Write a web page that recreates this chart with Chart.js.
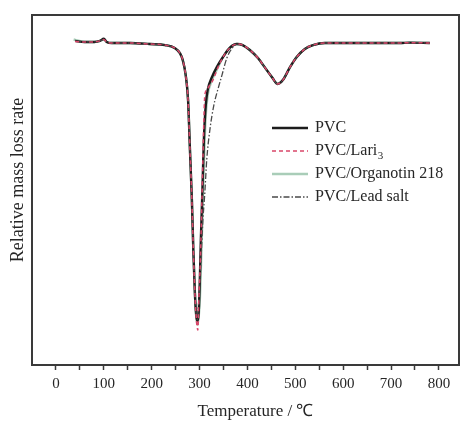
<!DOCTYPE html>
<html>
<head>
<meta charset="utf-8">
<script src="https://cdn.jsdelivr.net/npm/chart.js@4/dist/chart.umd.min.js"></script>
<style>
  html, body { margin: 0; padding: 0; background: #fff; }
  #wrap { width: 461px; height: 425px; }
</style>
</head>
<body>
<div id="wrap"><canvas id="c" width="461" height="425"></canvas></div>
<script>
// DTG curves: relative mass loss rate (arbitrary units) vs temperature (°C)
const pvcTemp = [40, 60, 80, 92, 100, 106, 117, 155, 196, 228, 248, 259, 265, 271, 276, 280, 284, 287, 290, 293, 295,
  298.5, 300.6, 302.7, 306, 309, 313, 317, 326, 336, 349, 363, 378, 390, 405, 422, 436, 451, 463, 474, 489, 503, 520, 537, 562, 614, 676, 718, 739, 781];
const pvcRate = [92.6, 92.3, 92.3, 92.6, 93.2, 92.3, 92.0, 92.0, 91.7, 91.4, 90.6, 89.1, 87.1, 82.9, 75.7, 61.4, 47.1, 32.9, 21.4, 14.3, 12.6,
  15.7, 24.3, 35.7, 50.0, 64.3, 74.3, 78.6, 82.3, 85.1, 88.0, 90.6, 91.7, 91.4, 90.0, 87.7, 85.1, 82.3, 80.3, 81.4, 85.1, 88.0, 90.3, 91.4, 92.0, 92.0, 92.0, 92.0, 92.1, 92.0];

const lariTemp = [40, 60, 80, 92, 100, 106, 117, 155, 196, 228, 248, 259, 265, 271, 276, 280, 284, 287, 290, 293, 296.5,
  298.5, 301.7, 305, 307, 309, 311, 315, 321.5, 328, 338, 349, 363, 378, 390, 405, 422, 436, 451, 463, 474, 489, 503, 520, 537, 562, 614, 676, 718, 739, 781];
const lariRate = [92.4, 92.3, 92.3, 92.6, 93.0, 92.3, 92.0, 92.0, 91.7, 91.4, 90.6, 89.1, 87.1, 82.9, 75.7, 61.4, 47.1, 32.9, 21.4, 13.5, 10.0,
  18.6, 30.0, 47.1, 58.6, 70.0, 77.1, 78.6, 80.0, 81.4, 84.9, 88.0, 90.6, 91.7, 91.4, 90.0, 87.7, 85.1, 82.3, 80.3, 81.4, 85.1, 88.0, 90.3, 91.4, 92.0, 92.0, 92.0, 92.0, 92.1, 92.0];

const organotinTemp = [37, 60, 80, 92, 100, 106, 117, 155, 196, 228, 248, 259, 265, 271, 276, 280, 284, 287, 290, 293, 296,
  300.6, 304, 307, 310, 313, 317, 326, 338, 349, 363, 378, 390, 405, 422, 436, 451, 463, 474, 489, 503, 520, 537, 562, 614, 676, 718, 739, 781];
const organotinRate = [93.0, 92.3, 92.3, 92.6, 93.0, 92.3, 92.0, 92.0, 91.7, 91.4, 90.6, 89.1, 87.1, 82.9, 75.7, 61.4, 47.1, 32.9, 21.4, 14.0, 11.5,
  18.6, 32.9, 47.1, 61.4, 71.4, 77.1, 81.4, 84.9, 88.0, 90.6, 91.7, 91.4, 90.0, 87.7, 85.1, 82.3, 80.3, 81.4, 85.1, 88.0, 90.3, 91.4, 92.0, 92.0, 92.0, 92.0, 92.1, 92.0];

const leadTemp = [40, 60, 80, 92, 100, 106, 117, 155, 196, 228, 248, 259, 265, 271, 276, 280, 284, 287, 290, 293, 295,
  298.5, 303, 307, 311, 315, 321.5, 330, 338, 347, 357, 367, 378, 390, 405, 422, 436, 451, 463, 474, 489, 503, 520, 537, 562, 614, 676, 718, 739, 781];
const leadRate = [92.5, 92.3, 92.3, 92.6, 93.0, 92.3, 92.0, 92.0, 91.7, 91.4, 90.6, 89.1, 87.1, 82.9, 75.7, 61.4, 47.1, 32.9, 21.4, 14.5, 13.0,
  18.6, 30.0, 41.4, 49.1, 58.6, 67.1, 74.3, 78.6, 82.9, 87.7, 90.3, 91.7, 91.4, 90.0, 87.7, 85.1, 82.3, 80.3, 81.4, 85.1, 88.0, 90.3, 91.4, 92.0, 92.0, 92.0, 92.0, 92.1, 92.0];

const seriesNames = ['PVC', 'PVC/Lari', 'PVC/Organotin 218', 'PVC/Lead salt'];
const seriesSubscripts = ['', '3', '', ''];
const xTickValues = [0, 50, 100, 150, 200, 250, 300, 350, 400, 450, 500, 550, 600, 650, 700, 750, 800];
const xTitle = 'Temperature / ℃';
const yTitle = 'Relative mass loss rate';

const SERIF = '"Liberation Serif", "Times New Roman", serif';
const TEXT = '#262626';

function pts(xs, ys) { return xs.map((x, i) => ({ x: x, y: ys[i] })); }

// Frame around the plot area
const framePlugin = {
  id: 'frame',
  afterDatasetsDraw(chart) {
    const { ctx, chartArea: a } = chart;
    ctx.save();
    ctx.strokeStyle = '#3a3a3a';
    ctx.lineWidth = 2;
    ctx.strokeRect(a.left, a.top, a.right - a.left, a.bottom - a.top);
    ctx.restore();
  }
};

// Axis titles, placed slightly off the plot centre
const axisTitlePlugin = {
  id: 'axisTitles',
  afterDraw(chart) {
    const { ctx, chartArea: a } = chart;
    ctx.save();
    ctx.fillStyle = TEXT;
    ctx.textAlign = 'center';
    ctx.textBaseline = 'middle';
    ctx.font = '17px ' + SERIF;
    ctx.fillText(xTitle, (a.left + a.right) / 2 + 10, a.bottom + 47);
    ctx.translate(18, (a.top + a.bottom) / 2 - 10);
    ctx.rotate(-Math.PI / 2);
    ctx.font = '18px ' + SERIF;
    ctx.fillText(yTitle, 0, 0);
    ctx.restore();
  }
};

// Legend with line samples, drawn inside the plot area
const legendPlugin = {
  id: 'lineLegend',
  afterDatasetsDraw(chart) {
    const { ctx, chartArea: a } = chart;
    const x0 = a.left + 240, x1 = a.left + 276, tx = a.left + 283;
    const y0 = a.top + 113, step = 23;
    ctx.save();
    chart.data.datasets.forEach((ds, i) => {
      const y = y0 + i * step;
      ctx.strokeStyle = ds.borderColor;
      ctx.lineWidth = ds.borderWidth;
      ctx.setLineDash(ds.borderDash || []);
      ctx.beginPath();
      ctx.moveTo(x0, y);
      ctx.lineTo(x1, y);
      ctx.stroke();
      ctx.setLineDash([]);
      ctx.fillStyle = TEXT;
      ctx.font = '16px ' + SERIF;
      ctx.textBaseline = 'middle';
      ctx.textAlign = 'left';
      ctx.fillText(seriesNames[i], tx, y);
      if (seriesSubscripts[i]) {
        const w = ctx.measureText(seriesNames[i]).width;
        ctx.font = '11px ' + SERIF;
        ctx.fillText(seriesSubscripts[i], tx + w + 0.5, y + 5);
      }
    });
    ctx.restore();
  }
};

new Chart(document.getElementById('c'), {
  type: 'line',
  data: {
    datasets: [
      { label: seriesNames[0], data: pts(pvcTemp, pvcRate), borderColor: '#1c1c1c', borderWidth: 2.4, order: 2 },
      { label: seriesNames[1] + seriesSubscripts[1], data: pts(lariTemp, lariRate), borderColor: '#d9476a', borderWidth: 1.5, borderDash: [4, 3], order: 0 },
      { label: seriesNames[2], data: pts(organotinTemp, organotinRate), borderColor: '#a9cdb8', borderWidth: 2.4, order: 3 },
      { label: seriesNames[3], data: pts(leadTemp, leadRate), borderColor: '#4a4a4a', borderWidth: 1.3, borderDash: [6, 2, 1.5, 2], order: 1 }
    ].map(d => Object.assign({ fill: false, pointRadius: 0, tension: 0.3, cubicInterpolationMode: 'monotone' }, d))
  },
  options: {
    responsive: false,
    animation: false,
    devicePixelRatio: 1,
    layout: { padding: { top: 15, right: 2, left: 0, bottom: 0 } },
    plugins: { legend: { display: false }, tooltip: { enabled: false } },
    scales: {
      x: {
        type: 'linear',
        min: -50,
        max: 842,
        afterBuildTicks(scale) { scale.ticks = xTickValues.map(v => ({ value: v })); },
        afterFit(scale) { scale.height = 60; },
        grid: { display: true, drawOnChartArea: false, drawTicks: true, tickLength: 5, tickColor: '#3a3a3a', tickWidth: 1.5 },
        border: { display: false },
        ticks: {
          autoSkip: false,
          maxRotation: 0,
          padding: 5,
          color: TEXT,
          font: { family: SERIF, size: 15 },
          callback: v => (v % 100 === 0 ? String(v) : '')
        },
        title: { display: false }
      },
      y: {
        min: 0,
        max: 100,
        afterFit(scale) { scale.width = 32; },
        grid: { display: false },
        border: { display: false },
        ticks: { display: false },
        title: { display: false }
      }
    }
  },
  plugins: [framePlugin, legendPlugin, axisTitlePlugin]
});
</script>
</body>
</html>
